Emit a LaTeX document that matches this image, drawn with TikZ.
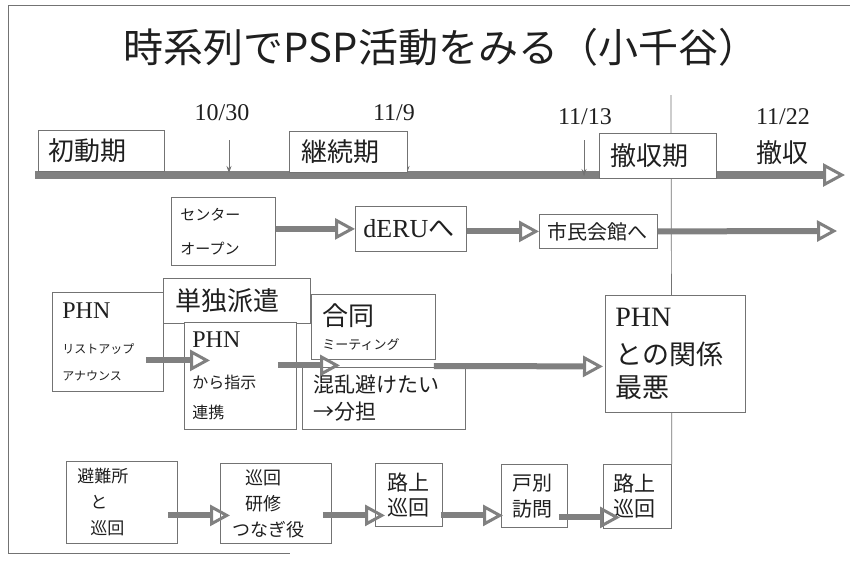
\documentclass[tikz,border=0pt]{standalone}
\usepackage{fontspec}
\setmainfont{Liberation Serif}
\newfontfamily\jp{Noto Sans CJK JP}
\usetikzlibrary{arrows.meta}
\definecolor{ln}{gray}{0.45}
\definecolor{ar}{gray}{0.5}
\definecolor{tx}{gray}{0.12}
\newcommand{\fs}[2]{\fontsize{#1}{#2}\selectfont}
\begin{document}
\begin{tikzpicture}[x=1pt,y=-1pt,
  box/.style={draw=ln, line width=0.8pt, fill=white, anchor=north west, inner ysep=0pt, align=left, text=tx},
  fat/.style={draw=ar, line width=6pt, -{Triangle[open, length=20pt, width=21pt, line width=3pt]}},
  fatT/.style={draw=ar, line width=8pt, -{Triangle[open, length=22pt, width=23pt, line width=3pt]}},
  thin/.style={draw=ln, line width=0.7pt, -{Stealth[length=7pt,width=5pt]}},
  date/.style={text=tx, font=\fs{24}{24}, inner sep=0pt},
  frame/.style={draw=ln, line width=0.8pt}]
\useasboundingbox (0,0) rectangle (850,562);
\fill[white] (0,0) rectangle (850,562);
% frame
\draw[frame] (850,5) -- (8,5) -- (8,553) -- (290,553);
% title
\node[text=tx, font=\jp\fs{40}{40}, inner sep=0pt] (title) at (441,47) {時系列でPSP活動をみる（小千谷）};
% vertical divider and timeline
\coordinate (v0) at (671,95);
\coordinate (t0) at (35,175);
\coordinate (t1) at (845,175);
\draw[fatT] (t0) -- (t1);
% dates
\node[date] (d1) at (222,113) {10/30};
\node[date] (d2) at (394,113) {11/9};
\node[date] (d3) at (585,117) {11/13};
\node[date] (d4) at (783,117) {11/22};
\coordinate (a1s) at (229,140); \coordinate (a1e) at (229,173);
\coordinate (a2s) at (407,140); \coordinate (a2e) at (407,173);
\coordinate (a3s) at (584,140); \coordinate (a3e) at (584,176);
\draw[thin] (a1s) -- (a1e);
\draw[thin] (a2s) -- (a2e);
\draw[thin] (a3s) -- (a3e);
% bottom row (needed for divider end)
\node[box, minimum width=68pt, minimum height=64pt, text width=48pt, inner xsep=10pt, font=\jp\fs{21}{25}] (b5) at (603,464) {路上\\巡回};
\draw[draw=ln, line width=0.7pt] (v0) -- (b5.north east);
% phase boxes
\node[box, minimum width=126pt, minimum height=41pt, text width=106pt, inner xsep=10pt, font=\jp\fs{26}{26}] (p1) at (38,130) {初動期};
\node[box, minimum width=118pt, minimum height=41pt, text width=94pt, inner xsep=12pt, font=\jp\fs{26}{26}] (p2) at (289,131) {継続期};
\node[box, minimum width=117pt, minimum height=45pt, text width=95pt, inner xsep=11pt, font=\jp\fs{26}{26}] (p3) at (599,133) {撤収期};
\node[text=tx, font=\jp\fs{26}{26}, inner sep=0pt] (p4) at (782,153) {撤収};
% row 2
\node[box, minimum width=104pt, minimum height=68pt, text width=86pt, inner xsep=9pt, font=\jp\fs{15}{34}] (c1) at (171,197) {センター\\オープン};
\node[box, minimum width=111pt, minimum height=45pt, text width=95pt, inner xsep=8pt, font=\fs{26}{26}] (c2) at (355,206) {dERU{\jp へ}};
\node[box, minimum width=118pt, minimum height=34pt, text width=102pt, inner xsep=8pt, font=\jp\fs{20}{20}] (c3) at (539,214) {市民会館へ};
\coordinate (c4) at (837,231);
% row 3
\node[box, minimum width=111pt, minimum height=99pt, text width=91pt, inner xsep=10pt, font=\jp\fs{12}{27}] (r1) at (52,292) {{\rmfamily\fs{24}{24}PHN}\\[8pt]リストアップ\\アナウンス};
\node[box, minimum width=147pt, minimum height=45pt, text width=123pt, inner xsep=12pt, font=\jp\fs{26}{26}] (r2) at (163,278) {単独派遣};
\node[box, minimum width=112pt, minimum height=107pt, text width=96pt, inner xsep=8pt, font=\jp\fs{16}{30}] (r3) at (184,322) {{\rmfamily\fs{24}{24}PHN}\\[11pt]から指示\\連携};
\node[box, minimum width=124pt, minimum height=65pt, text width=102pt, inner xsep=11pt, font=\jp\fs{13}{24}] (r4) at (311,294) {{\fs{26}{26}合同}\\ミーティング};
\node[box, minimum width=163pt, minimum height=62pt, text width=141pt, inner xsep=11pt, font=\jp\fs{21}{27}] (r5) at (302,367) {混乱避けたい\\→分担};
\node[box, minimum width=140pt, minimum height=117pt, text width=120pt, inner xsep=10pt, font=\jp\fs{27}{33}] (r6) at (605,295) {{\rmfamily\fs{28}{28}PHN}\\[5pt]との関係\\最悪};
% row 4
\node[box, minimum width=111pt, minimum height=82pt, text width=89pt, inner xsep=11pt, font=\jp\fs{17}{26}] (b1) at (66,461) {避難所\\\hspace*{13pt}と\\\hspace*{13pt}巡回};
\node[box, minimum width=111pt, minimum height=80pt, text width=87pt, inner xsep=12pt, font=\jp\fs{18}{26}] (b2) at (220,463) {\hspace*{13pt}巡回\\\hspace*{13pt}研修\\つなぎ役};
\node[box, minimum width=67pt, minimum height=63pt, text width=43pt, inner xsep=12pt, font=\jp\fs{21}{25}] (b3) at (375,463) {路上\\巡回};
\node[box, minimum width=66pt, minimum height=63pt, text width=44pt, inner xsep=11pt, font=\jp\fs{20}{26}] (b4) at (501,464) {戸別\\訪問};
% connectors
\draw[fat] (c1.east |- c2.west) -- (c2.west);
\draw[fat] (c2.east |- c3.west) -- (c3.west);
\draw[fat] (c3.east) -- (c4);
\draw[fat] ([shift={(-18,18.5)}]r1.east) -- ([shift={(26,-15.5)}]r3.west);
\draw[fat] ([shift={(-19,-10.5)}]r3.east) -- ([shift={(38,-33)}]r5.west);
\draw[fat] ([shift={(-32,-1)}]r5.north east) -- ([shift={(-2,12.5)}]r6.west);
\draw[fat] ([shift={(-10,13)}]b1.east) -- ([shift={(10,12)}]b2.west);
\draw[fat] ([shift={(-9,12)}]b2.east) -- ([shift={(10,20.5)}]b3.west);
\draw[fat] ([shift={(-2,20.5)}]b3.east) -- ([shift={(2,19.5)}]b4.west);
\draw[fat] ([shift={(-9,21.5)}]b4.east) -- ([shift={(17,21)}]b5.west);
\end{tikzpicture}
\end{document}
